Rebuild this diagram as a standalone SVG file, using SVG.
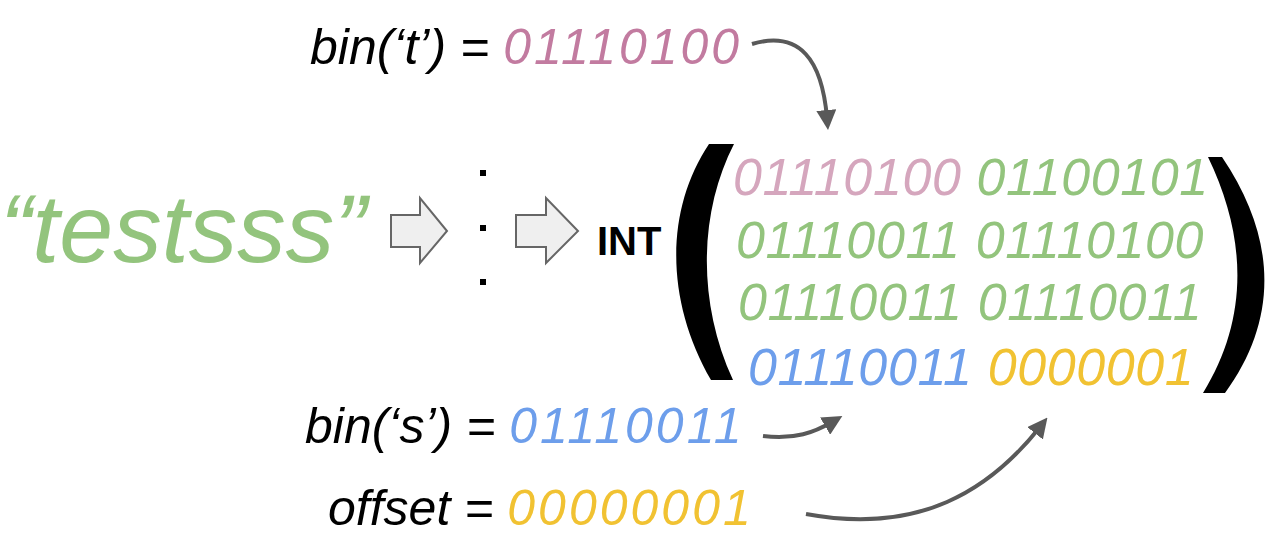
<svg xmlns="http://www.w3.org/2000/svg" width="1275" height="553" viewBox="0 0 1275 553">
<style>
text{font-family:"Liberation Sans",Arial,sans-serif;font-style:italic}
.lb{font-size:50px;fill:#000}
.dg{letter-spacing:3px}
.mx{font-size:52px;letter-spacing:0.6px}
.g{fill:#93c47d}.p{fill:#d5a6bd}.b{fill:#6d9eeb}.y{fill:#f1c232}.pd{fill:#c27ba0}
.c{fill:none;stroke:#595959;stroke-width:4}
.ba{fill:#efefef;stroke:#666;stroke-width:2}
</style>
<defs><marker id="ah" markerWidth="5" markerHeight="5" refX="2" refY="2.5" orient="auto" markerUnits="strokeWidth"><path d="M0,0L5,2.5L0,5z" fill="#595959"/></marker></defs>
<rect width="1275" height="553" fill="#fff"/>
<g id="input"><text x="0" y="262" font-size="97" class="g">“testsss”</text></g>
<g id="arrow1"><path class="ba" d="M391,215H420V198L447,231L420,263V247H391Z"/></g>
<g id="dots"><rect x="480" y="170" width="6" height="6"/><rect x="480" y="225" width="6" height="6"/><rect x="480" y="279" width="6" height="6"/></g>
<g id="arrow2"><path class="ba" d="M516,215H546V198L578,231L546,263V247H516Z"/></g>
<g id="int"><text x="597" y="255" style="font-size:40px;font-weight:bold;font-style:normal">INT</text></g>
<g id="matrix">
<path d="M709,144H734C700,210 696,300 733,380H711C665,300 665,210 709,144Z"/>
<path d="M1208,157H1222C1278,240 1278,320 1225,393H1203C1248,320 1248,240 1208,157Z"/>
<text class="mx" x="733" y="195"><tspan class="p">01110100</tspan> <tspan class="g">01100101</tspan></text>
<text class="mx g" x="736" y="258">01110011 01110100</text>
<text class="mx g" x="738" y="320">01110011 01110011</text>
<text class="mx" x="748" y="385"><tspan class="b">01110011</tspan> <tspan class="y">0000001</tspan></text>
</g>
<g id="lt"><text class="lb" x="310" y="64">bin(‘t’) = <tspan class="pd dg">01110100</tspan></text></g>
<g id="ls"><text class="lb" x="305" y="443">bin(‘s’) = <tspan class="b dg">01110011</tspan></text></g>
<g id="lo"><text class="lb" x="328" y="525">offset = <tspan class="y dg">00000001</tspan></text></g>
<g id="connectors">
<path class="c" marker-end="url(#ah)" d="M752,44C800,30 822,60 827,118"/>
<path class="c" marker-end="url(#ah)" d="M763,436C795,440 815,432 832,422"/>
<path class="c" marker-end="url(#ah)" d="M806,514C920,535 990,490 1040,427"/>
</g>
</svg>
